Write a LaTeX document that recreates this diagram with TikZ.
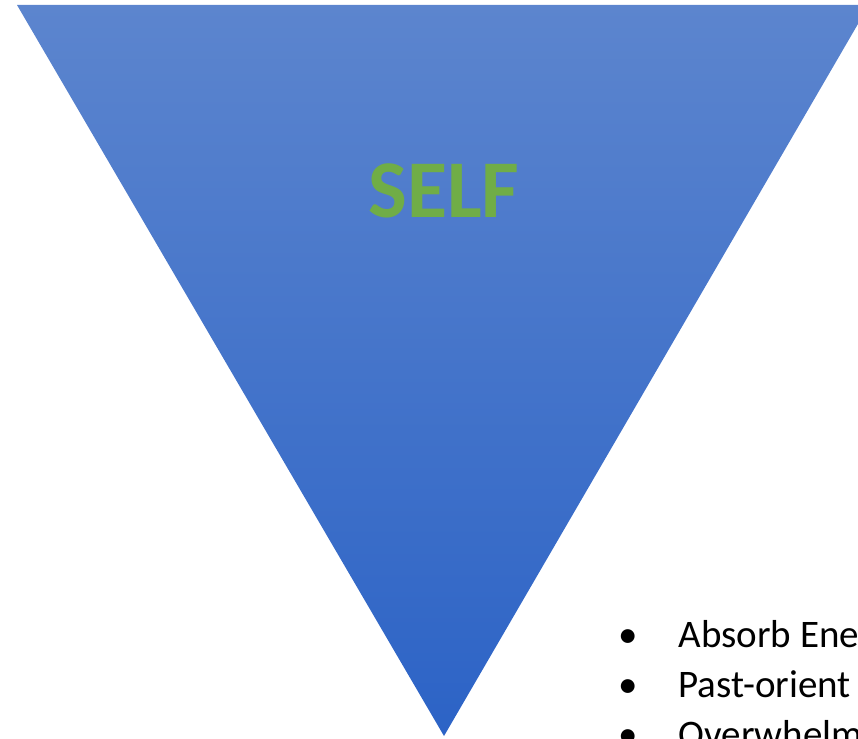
\documentclass[tikz,border=0pt]{standalone}
\usepackage{fontspec}
\setmainfont{Carlito}
\definecolor{selfgreen}{RGB}{112,173,71}
\definecolor{topblue}{RGB}{92,133,206}
\definecolor{botblue}{RGB}{44,99,198}

\begin{document}
\begin{tikzpicture}[x=1pt,y=-1pt]
    \useasboundingbox (0,0) rectangle (858,738);
    \clip (0,0) rectangle (858,738);
    \shade[top color=topblue, bottom color=botblue] (17,5) -- (869,5) -- (444,736) -- cycle;
    \node[selfgreen, font=\fontsize{82}{82}\selectfont\bfseries] (self) at (444,191) {SELF};
    \node[anchor=base, font=\fontsize{39}{50}\selectfont] (b1) at (628,647) {\textbullet};
    \node[anchor=base west, font=\fontsize{39}{50}\selectfont] (absorb) at (675,647) {Absorb Ene};
    \node[anchor=base, font=\fontsize{39}{50}\selectfont] (b2) at (628,697) {\textbullet};
    \node[anchor=base west, font=\fontsize{39}{50}\selectfont] (past) at (675,697) {Past-orient};
    \node[anchor=base, font=\fontsize{39}{50}\selectfont] (b3) at (628,747) {\textbullet};
    \node[anchor=base west, font=\fontsize{39}{50}\selectfont] (over) at (675,747) {Overwhelm};
\end{tikzpicture}
\end{document}
